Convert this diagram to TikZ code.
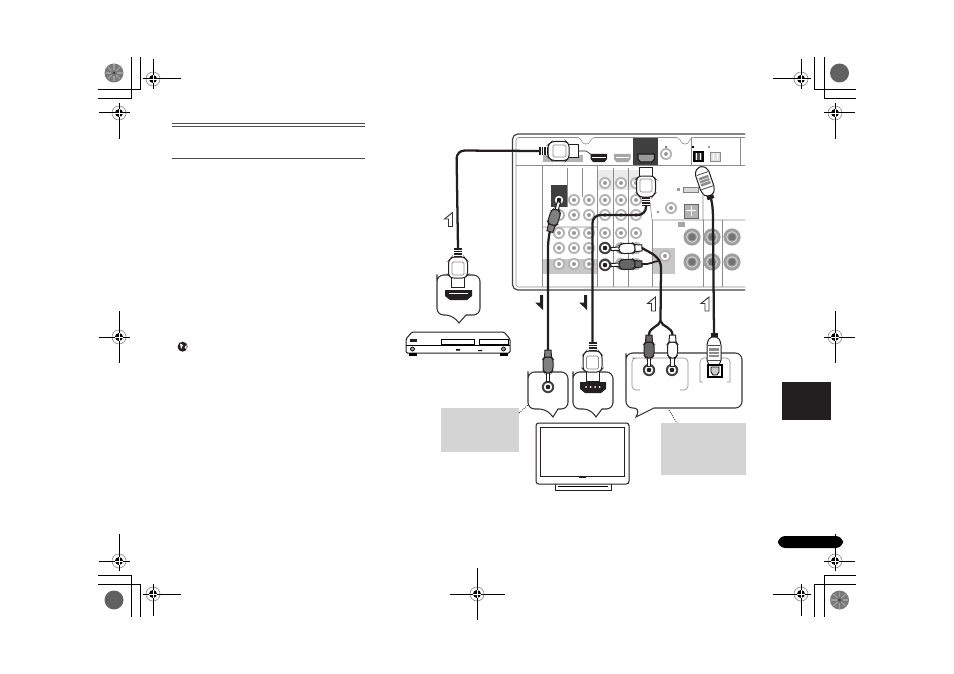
\documentclass[tikz,border=0pt]{standalone}
\usepackage{tikz}
\usetikzlibrary{arrows.meta, positioning, shapes, calc}

\definecolor{inkblack}{HTML}{231F20}
\definecolor{notegrey}{HTML}{D4D4D4}

\tikzset{
    cable/.style={line width=1.7pt, draw=inkblack, rounded corners=6pt},
    thinline/.style={line width=0.45pt, draw=black!45},
    outline/.style={line width=0.75pt, draw=inkblack},
    bubble/.style={line width=0.8pt, draw=black!80, fill=white, rounded corners=5pt},
    greybox/.style={fill=notegrey, inner sep=0pt, outer sep=0pt},
    pics/jack/.style={code={
        \fill[black!30] (0,0) circle (6);
        \fill[white] (0,0) circle (4.2);
        \fill[black!40] (0,0) circle (2);
    }},
    pics/darkjack/.style={code={
        \fill[black!75] (0,0) circle (6.2);
        \fill[white] (0,0) circle (4.2);
        \fill[inkblack] (0,0) circle (2.3);
    }},
    pics/bigjack/.style={code={
        \fill[black!38] (0,0) circle (8.6);
        \draw[black!12, line width=0.5pt] (0,0) circle (5.4);
        \fill[black!55] (0,0) circle (3.6);
    }},
    pics/hdmiplug/.style={code={
        \draw[outline, fill=white] (-6.5,0) -- (-6.5,-10) -- (6.5,-10) -- (6.5,0) -- cycle;
        \draw[outline, fill=white, rounded corners=2pt] (-7,-9) -- (-9.5,-12) -- (-9.5,-26) -- (-6,-30) -- (6,-30) -- (9.5,-26) -- (9.5,-12) -- (7,-9) -- cycle;
        \draw[thinline, rounded corners=1pt] (-6,-12) rectangle (6,-25);
        \fill[inkblack] (-4,-39) rectangle (4,-30);
        \foreach \sy in {-37,-34.5,-32} \draw[white, line width=0.4pt] (-4,\sy) -- (4,\sy);
        \coordinate (-tail) at (0,-39);
    }},
    pics/rcaplug/.style={code={
        \draw[outline, fill=white] (-1.6,0) -- (-1.6,-9) -- (1.6,-9) -- (1.6,0) -- cycle;
        \draw[outline, fill=#1, rounded corners=1.5pt] (-3,-8) -- (-5,-11) -- (-5,-22) -- (-3.5,-24) -- (3.5,-24) -- (5,-22) -- (5,-11) -- (3,-8) -- cycle;
        \draw[outline, fill=#1] (-3.5,-24) -- (-3,-31) -- (3,-31) -- (3.5,-24) -- cycle;
        \coordinate (-tail) at (0,-31);
    }},
    pics/opticplug/.style={code={
        \draw[outline, fill=white, rounded corners=1.5pt] (-3,0) -- (-7,-5) -- (-7,-24) -- (-4,-30) -- (4,-30) -- (7,-24) -- (7,-5) -- (3,0) -- cycle;
        \draw[line width=0.6pt, draw=black!70] (-6,-7) -- (6,-7) (-6,-22) -- (6,-22);
        \fill[black!45] (-5,-19) rectangle (5,-10);
        \draw[white, line width=0.4pt] (-5,-16) -- (5,-16) (-5,-13) -- (5,-13);
        \fill[inkblack] (-3.5,-34) rectangle (3.5,-30);
        \coordinate (-tail) at (0,-34);
    }},
    pics/halfdown/.style={code={
        \fill[inkblack] (0,0) -- (3,0) -- (3,15) -- (-5,7.5) -- (0,7.5) -- cycle;
    }},
    pics/halfup/.style={code={
        \draw[line width=0.7pt, draw=black!80, fill=white, line join=miter] (8,14) -- (4,14) -- (4,6.5) -- (0,6.5) -- (8,0) -- cycle;
    }},
}

\begin{document}
\begin{tikzpicture}[x=0.75pt, y=-0.75pt]
    \useasboundingbox (0,0) rectangle (954,674);

    % crop corners
    \draw[line width=0.75pt] (98,99) -- (131,99) -- (131,57) (98,90) -- (140,90) -- (140,57);
    \draw[line width=0.75pt] (856,99) -- (824,99) -- (824,57) (856,90) -- (814,90) -- (814,57);
    \draw[line width=0.75pt] (98,575) -- (131,575) -- (131,617) (98,584) -- (140,584) -- (140,617);
    \draw[line width=0.75pt] (856,575) -- (824,575) -- (824,617) (856,584) -- (814,584) -- (814,617);

    % discs
    \foreach \cx/\cy in {114/600, 839.5/73} {
        \fill[black!62] (\cx,\cy) circle (9.5);
    }
    \foreach \cx/\cy in {114/73, 839.5/600} {
        \fill[black!52] (\cx,\cy) circle (9.5);
        \foreach \ang in {0,45,...,315} \draw[black!38, line width=0.9pt] (\cx,\cy) ++(\ang:3) -- ++(\ang:5.5);
        \fill[black!75] (\cx,\cy) circle (1.5);
    }

    % register marks
    \foreach \cx/\cy/\ml/\mr/\mu/\md in {153/79/10/28/20/10, 119/113/20/11/10/26, 801/79/28/10/20/10, 835/113/11/20/10/26,
        119/337/20/11/26/26, 835/337/11/20/26/26, 119/561/20/11/27/10, 835/561/11/20/27/10,
        153/594/10/28/10/22, 801/594/28/10/10/22, 477/594/27/28/26/26} {
        \draw[black!45, line width=0.5pt] (\cx,\cy) circle (7);
        \draw[line width=0.75pt] (\cx-\ml,\cy) -- (\cx+\mr,\cy) (\cx,\cy-\mu) -- (\cx,\cy+\md);
        \fill (\cx,\cy) circle (4);
        \draw[white, line width=0.45pt] (\cx-4,\cy) -- (\cx+4,\cy) (\cx,\cy-4) -- (\cx,\cy+4);
    }

    % left column rules and icon
    \draw[black!70, line width=0.7pt] (172,123.5) -- (365,123.5) (172,126) -- (365,126);
    \draw[black!70, line width=0.7pt] (172,158) -- (365,158);
    \fill[inkblack] (182.6,346.7) circle (5);
    \fill[white] (180,343.5) -- (183,345) -- (181,349) -- cycle (184.5,347) -- (186.5,345) -- (186.5,350) -- cycle;

    % side tab and pill
    \fill[inkblack] (782,382) rectangle (831,420);
    \fill[black, rounded corners=5.5pt] (778,536) rectangle (843,548);
    \draw[line width=0.75pt] (835,534) -- (835,548);

    % receiver back panel
    \fill[black!22] (543,259) rectangle (597,274);
    \fill[black!22] (653,248) rectangle (675,274);
    \fill[black!8] (598,170) rectangle (650,190);
    \fill[black!75] (633,137) rectangle (658,165);
    \fill[black!75] (551,185) rectangle (567,207);
    \draw[line width=0.9pt, draw=black!75, rounded corners=4pt] (745,134) -- (512.5,134) -- (512.5,290) -- (745,290);
    \draw[thinline, rounded corners=2pt] (745,137.5) -- (691,137.5) -- (688,144) -- (682,144) -- (679,137.5) -- (592,137.5) -- (589,144) -- (583,144) -- (580,137.5) -- (516,137.5) -- (516,287) -- (745,287);
    \draw[thinline] (516,165) -- (745,165);
    \foreach \vx/\vy/\vz in {542/165/287, 567/168/207, 582/168/197, 597/165/287, 613/168/287, 628/168/287, 652/220/287, 740/137/165, 703/220/287, 722/220/287, 691/137/165} {
        \draw[thinline] (\vx,\vy) -- (\vx,\vz);
    }
    \draw[thinline] (652,220) -- (745,220) (543,227) -- (597,227) (650,201) -- (652,220) (703,187) -- (703,220);

    % hdmi ports
    \fill[black!30] (543,155) rectangle (583,162);
    \foreach \px/\pc in {590.6/inkblack, 614/black!35} {
        \fill[\pc] (\px,154) -- (\px+16.5,154) -- (\px+16.5,159) -- (\px+14,162) -- (\px+2.5,162) -- (\px,159) -- cycle;
    }
    \draw[line width=0.8pt, draw=black!90, fill=black!40] (638,154) -- (654.5,154) -- (654.5,159) -- (652,162) -- (640.5,162) -- (638,159) -- cycle;
    \draw[white, line width=0.4pt] (592,157) -- (606,157) (615.5,157) -- (629,157);
    \pic at (666,154) {jack};
    \fill[black!50] (665,146) rectangle (667,148);
    \draw[line width=0.8pt, fill=black!70] (694,152) rectangle (703,161);
    \draw[white, line width=0.7pt] (696.5,153) -- (696.5,160) (700.5,153) -- (700.5,160);
    \draw[line width=0.5pt, draw=black!45, fill=black!12] (710,152) rectangle (720,161);
    \draw[white, line width=0.7pt] (713,153) -- (713,160) (717,153) -- (717,160);
    \fill[black] (692,146) rectangle (694,148);
    \fill[black!40] (708,146) rectangle (710,148);

    % jack columns
    \foreach \jx in {574,589} {
        \foreach \jy in {200,215,233,248,264} { \pic at (\jx,\jy) {jack}; }
    }
    \foreach \jy in {215,233,248,264} { \pic at (559,\jy) {jack}; }
    \foreach \jx in {605,621,636} {
        \foreach \jy in {183,200,215,233,248,264} { \pic at (\jx,\jy) {jack}; }
    }
    \foreach \jx in {692,712,732} {
        \foreach \jy in {237,262} { \pic at (\jx,\jy) {bigjack}; }
    }
    \pic at (665,256) {jack};
    \pic at (671,208) {jack};
    \draw[black!50, line width=0.4pt] (658,212) circle (1);
    \pic at (559,200) {darkjack};
    \pic at (605,248) {darkjack};
    \pic at (605,265) {darkjack};
    \fill[black!35] (678,222) rectangle (685,227);
    \draw[line width=0.5pt, draw=black!50, fill=black!15] (683,187) rectangle (698,192);
    \fill[black!40] (677,188) rectangle (680,191);
    \draw[line width=0.5pt, draw=black!60, fill=black!30] (684,204) rectangle (698,218);
    \draw[white, line width=0.6pt] (691,206) -- (691,216) (686,210) -- (696,210);

    % source player
    \draw[outline, fill=white, rounded corners=1pt] (406,339) -- (412,332) -- (504,332) -- (510,339) -- (510,353) -- (406,353) -- cycle;
    \draw[line width=0.6pt] (406,345) -- (510,345);
    \fill[inkblack] (410,339) rectangle (417,342);
    \draw[line width=0.6pt] (441,339.5) rectangle (474,344.5) (479,339.5) rectangle (508,344.5);
    \foreach \fx in {412.5,503.5} {
        \draw[line width=0.5pt, fill=black!40] (\fx,349) circle (2);
        \fill[black] (\fx-4,353) rectangle (\fx+4,355.5);
    }
    \fill[black] (456,349) rectangle (460,350.5) (478,350) rectangle (482,351);

    % screen
    \draw[outline, fill=white, rounded corners=2pt] (536,423) rectangle (629,484);
    \draw[outline] (540.5,427.5) rectangle (624.5,476);
    \fill[inkblack] (579,476) rectangle (586,478);
    \draw[outline] (555,484) -- (555,490) -- (611,490) -- (611,484);
    \draw[line width=0.5pt] (558,486) -- (608,486);

    % callouts
    \draw[bubble] (437,281) -- (437,315) -- (452,315) [sharp corners] -- (459,323) -- (466,315) [rounded corners=5pt] -- (480,315) -- (480,275) -- (437,275) -- cycle;
    \draw[bubble] (528,378) -- (528,409) -- (546,409) [sharp corners] -- (553,417) -- (558,409) [rounded corners=5pt] -- (568,409) -- (568,372) -- (528,372) -- cycle;
    \draw[bubble] (573,378) -- (573,409) -- (590,409) [sharp corners] -- (596,417) -- (602,409) [rounded corners=5pt] -- (613,409) -- (613,372) -- (573,372) -- cycle;
    \draw[bubble] (626,360) -- (626,408) -- (640,408) [sharp corners] -- (636,417) -- (654,408) [rounded corners=5pt] -- (742,408) -- (742,353) -- (626,353) -- cycle;
    \draw[thinline, rounded corners=3pt] (640,358) -- (632,358) -- (632,390) -- (640,390) (680,390) -- (688,390) -- (688,358) -- (632,358);
    \draw[thinline, rounded corners=3pt] (700,382) -- (700,358) -- (730,358) -- (730,382) (700,382) -- (703,382) (727,382) -- (730,382);

    % sockets
    \fill[inkblack] (445,290) -- (472,290) -- (472,296) -- (467,300) -- (450,300) -- (445,296) -- cycle;
    \draw[white, line width=0.5pt] (449,293) -- (468,293);
    \fill[inkblack] (580,382) -- (606,382) -- (606,389) -- (601,393) -- (585,393) -- (580,389) -- cycle;
    \foreach \dx in {586,590.5,595,599.5} { \fill[white] (\dx,387) circle (1); }
    \pic at (548,387) {darkjack};
    \pic at (649,370) {darkjack};
    \pic at (672,370) {darkjack};

    % plugs
    \pic (bdplug) at (458,287) {hdmiplug};
    \pic[rotate=90] (recvplug) at (578,151) {hdmiplug};
    \pic[rotate=180] (arcplug) at (646,167) {hdmiplug};
    \pic (tvplug) at (592.5,381) {hdmiplug};
    \pic[rotate=162.7] (vidplug) at (559,202) {rcaplug=black!50};
    \pic (vidtvplug) at (548,381) {rcaplug=black!50};
    \pic[rotate=-88] (whiteplug) at (611,249) {rcaplug=white};
    \pic[rotate=-88] (darkplug) at (611,265) {rcaplug=black!60};
    \pic (audioleft) at (649,366) {rcaplug=black!60};
    \pic (audioright) at (672.5,366) {rcaplug=white};
    \pic[rotate=199] (opticplugtop) at (700,167) {opticplug};
    \pic (opticplugbot) at (714,367) {opticplug};
    \draw[line width=0.9pt, fill=white] (708,365) rectangle (722,377);
    \draw[line width=0.6pt, fill=black!20] (711,367) -- (719,367) -- (719,372) -- (717,375) -- (713,375) -- (711,372) -- cycle;
    \coordinate (audiosplit) at (660.5,321);
    \coordinate (audiotop) at (661,268);

    % cables
    \draw[cable] (bdplug-tail) -- (456.5,150.5) -- (recvplug-tail);
    \draw[line width=0.5pt, draw=inkblack] (578,151) -- (586,151) -- (592,155);
    \draw[cable] (vidplug-tail) -- (548,240) -- (vidtvplug-tail);
    \draw[cable] (arcplug-tail) -- (646,215) -- (592.5,215) -- (tvplug-tail);
    \draw[cable, rounded corners=0pt] (audiotop) -- (audiosplit);
    \draw[cable, rounded corners=0pt] (whiteplug-tail) .. controls (650,253) and (661,256) .. (audiotop);
    \draw[cable, line width=1.3pt, rounded corners=0pt] (darkplug-tail) .. controls (650,265) and (654,261) .. (659,261);
    \draw[cable, rounded corners=0pt] (audiosplit) .. controls (659,327) and (649,327) .. (audioleft-tail);
    \draw[cable, rounded corners=0pt] (audiosplit) .. controls (662,327) and (672.5,327) .. (audioright-tail);
    \draw[cable, rounded corners=0pt] (opticplugtop-tail) .. controls (713,206) and (713,215) .. (713,225) -- (opticplugbot-tail);

    % direction marks
    \pic at (540,295) {halfdown};
    \pic at (584,295) {halfdown};
    \pic at (444.5,212.5) {halfup};
    \pic at (647.5,297) {halfup};
    \pic at (701,297) {halfup};

    % notes
    \node[greybox, minimum width=58.5pt, minimum height=33pt] (tvnote) at (480,430) {};
    \node[greybox, minimum width=63.75pt, minimum height=39pt] (amnote) at (703.5,449) {};
    \coordinate (vidcall) at (528,405);
    \coordinate (audiocall) at (669,410);
    \coordinate (tvnoteend) at (519,413);
    \coordinate (amnoteend) at (677,423);
    \draw[densely dotted, line width=0.6pt] (tvnoteend) -- (vidcall);
    \draw[densely dotted, line width=0.6pt] (audiocall) -- (amnoteend);
\end{tikzpicture}
\end{document}
